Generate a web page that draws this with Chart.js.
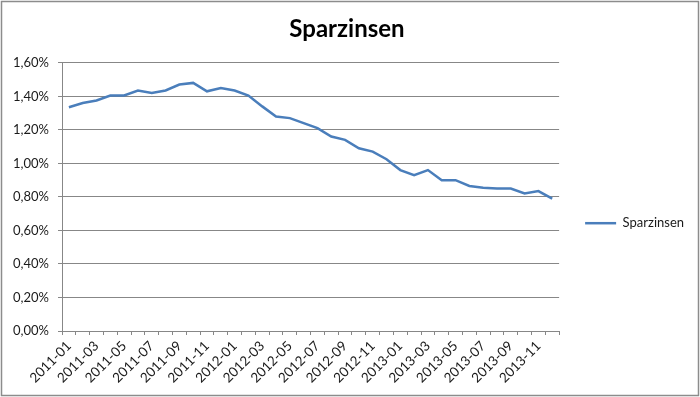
<!DOCTYPE html>
<html>
<head>
<meta charset="utf-8">
<script src="https://cdn.jsdelivr.net/npm/chart.js@4"></script>
<style>
  html, body { margin: 0; padding: 0; background: #fff; }
  #wrap { width: 700px; height: 397px; }
</style>
</head>
<body>
<div id="wrap"><canvas id="zinsen"></canvas></div>
<script>
const months = ['2011-01', '2011-02', '2011-03', '2011-04', '2011-05', '2011-06',
    '2011-07', '2011-08', '2011-09', '2011-10', '2011-11', '2011-12',
    '2012-01', '2012-02', '2012-03', '2012-04', '2012-05', '2012-06',
    '2012-07', '2012-08', '2012-09', '2012-10', '2012-11', '2012-12',
    '2013-01', '2013-02', '2013-03', '2013-04', '2013-05', '2013-06',
    '2013-07', '2013-08', '2013-09', '2013-10', '2013-11', '2013-12'];

// Sparzinsen in Prozent
const sparzinsen = [1.335, 1.36, 1.375, 1.405, 1.405, 1.435,
    1.42, 1.435, 1.47, 1.48, 1.43, 1.45,
    1.435, 1.405, 1.34, 1.28, 1.27, 1.24,
    1.21, 1.16, 1.14, 1.09, 1.07, 1.025,
    0.96, 0.93, 0.96, 0.90, 0.90, 0.865,
    0.855, 0.85, 0.85, 0.82, 0.835, 0.79];

const yMin = 0;
const yMax = 1.6;
const yStep = 0.2;

const lineColor = '#4a7ebb';
const gridColor = '#878787';
const fontName = 'Lato, "Liberation Sans", sans-serif';

// Rahmen um das ganze Diagramm (wie in Excel)
const chartBorder = {
    id: 'chartBorder',
    beforeDraw(chart) {
        const ctx = chart.ctx;
        ctx.save();
        ctx.fillStyle = '#ffffff';
        ctx.fillRect(0, 0, chart.width, chart.height);
        ctx.restore();
    },
    afterDraw(chart) {
        const ctx = chart.ctx;
        ctx.save();
        ctx.strokeStyle = '#8c8c8c';
        ctx.lineWidth = 1.5;
        ctx.strokeRect(1.5, 1.5, chart.width - 3, chart.height - 3);
        ctx.restore();
    }
};

const config = {
    type: 'line',
    data: {
        labels: months,
        datasets: [
            {
                label: 'Sparzinsen',
                data: sparzinsen,
                borderColor: lineColor,
                backgroundColor: lineColor,
                borderWidth: 2.5,
                pointRadius: 0,
                tension: 0,
                fill: false
            }
        ]
    },
    options: {
        responsive: true,
        maintainAspectRatio: false,
        animation: false,
        layout: {
            padding: { top: 0, left: 0, right: 6, bottom: 0 }
        },
        scales: {
            x: {
                offset: true,
                grid: {
                    offset: true,
                    drawOnChartArea: false,
                    drawTicks: true,
                    tickLength: 4,
                    color: gridColor
                },
                border: { color: gridColor },
                ticks: {
                    autoSkip: false,
                    maxRotation: 45,
                    minRotation: 45,
                    padding: 3,
                    color: '#1a1a1a',
                    font: { family: fontName, size: 13.5 },
                    callback: function (value, index) {
                        return index % 2 === 0 ? this.getLabelForValue(value) : '';
                    }
                },
                afterFit: (scale) => { scale.height = 66; }
            },
            y: {
                min: yMin,
                max: yMax,
                grid: {
                    color: gridColor,
                    tickLength: 4
                },
                border: { color: gridColor },
                ticks: {
                    stepSize: yStep,
                    padding: 9,
                    color: '#1a1a1a',
                    font: { family: fontName, size: 13 },
                    callback: (value) => value.toFixed(2).replace('.', ',') + '%'
                },
                afterFit: (scale) => { scale.width = 62; }
            }
        },
        plugins: {
            title: {
                display: true,
                text: 'Sparzinsen',
                color: '#000',
                font: { family: fontName, size: 24, weight: 'bold' },
                padding: { top: 15, bottom: 19 }
            },
            legend: {
                display: true,
                position: 'right',
                // leerer Titel schiebt den Eintrag etwas nach unten
                title: {
                    display: true,
                    text: '',
                    font: { size: 12 },
                    padding: { top: 0, bottom: 35 }
                },
                labels: {
                    usePointStyle: true,
                    pointStyleWidth: 31,
                    pointStyle: 'line',
                    color: '#1a1a1a',
                    font: { family: fontName, size: 13 },
                    padding: 26
                }
            },
            tooltip: { enabled: false }
        }
    },
    plugins: [chartBorder]
};

const chart = new Chart('zinsen', config);
</script>
</body>
</html>
